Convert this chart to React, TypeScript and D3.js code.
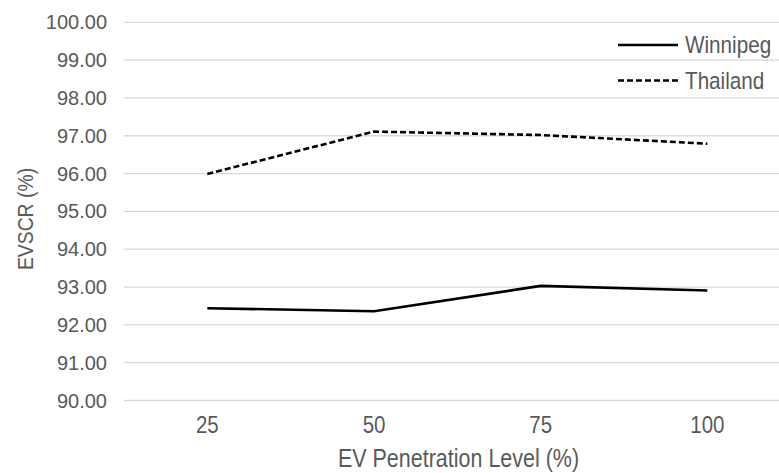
import React from "react";
import * as d3 from "d3";

const categories = ["25", "50", "75", "100"];
const winnipeg = [92.44, 92.36, 93.03, 92.91];
const thailand = [95.99, 97.11, 97.02, 96.79];
const yTicks = [90, 91, 92, 93, 94, 95, 96, 97, 98, 99, 100];
const seriesNames = ["Winnipeg", "Thailand"];

const W = 779;
const H = 473;
const FONT = "'Liberation Sans', Arial, sans-serif";
const TEXT = "#595959";

export default function App() {
  const x = d3.scaleBand<string>().domain(categories).range([124, 790.7]);
  const y = d3.scaleLinear().domain([90, 100]).range([400.5, 22.3]);
  const cx = (c: string) => (x(c) as number) + x.bandwidth() / 2;
  const line = d3
    .line<number>()
    .x((_, i) => cx(categories[i]))
    .y((d) => y(d));

  return (
    <svg
      width={W}
      height={H}
      style={{ position: "absolute", left: 0, top: 0, background: "#fff" }}
      fontFamily={FONT}
    >
      {yTicks.map((t) => (
        <g key={t}>
          <line x1={124} x2={W} y1={y(t)} y2={y(t)} stroke="#d9d9d9" strokeWidth={1.3} />
          <text x={107} y={y(t)} dy="0.35em" textAnchor="end" fontSize={20} fill={TEXT}>
            {t.toFixed(2)}
          </text>
        </g>
      ))}
      {categories.map((c) => (
        <text
          key={c}
          transform={`translate(${cx(c)},433.3) scale(0.89,1)`}
          textAnchor="middle"
          fontSize={23}
          fill={TEXT}
        >
          {c}
        </text>
      ))}
      <text
        transform={`translate(458.5,467.3) scale(0.86,1)`}
        textAnchor="middle"
        fontSize={25}
        fill={TEXT}
      >
        EV Penetration Level (%)
      </text>
      <text
        transform={`translate(33,219) rotate(-90) scale(0.88,1)`}
        textAnchor="middle"
        fontSize={22}
        fill={TEXT}
      >
        EVSCR (%)
      </text>
      <path d={line(winnipeg) || ""} fill="none" stroke="#000" strokeWidth={2.6} strokeLinejoin="round" />
      <path d={line(thailand) || ""} fill="none" stroke="#000" strokeWidth={2.6} strokeDasharray="6,3" />
      {seriesNames.map((n, i) => (
        <g key={n}>
          <line
            x1={618}
            x2={678}
            y1={45 + i * 35.5}
            y2={45 + i * 35.5}
            stroke="#000"
            strokeWidth={2.6}
            strokeDasharray={i === 1 ? "6,3" : undefined}
          />
          <text
            transform={`translate(685,${53.3 + i * 36}) scale(0.88,1)`}
            fontSize={23.5}
            fill={TEXT}
          >
            {n}
          </text>
        </g>
      ))}
    </svg>
  );
}
